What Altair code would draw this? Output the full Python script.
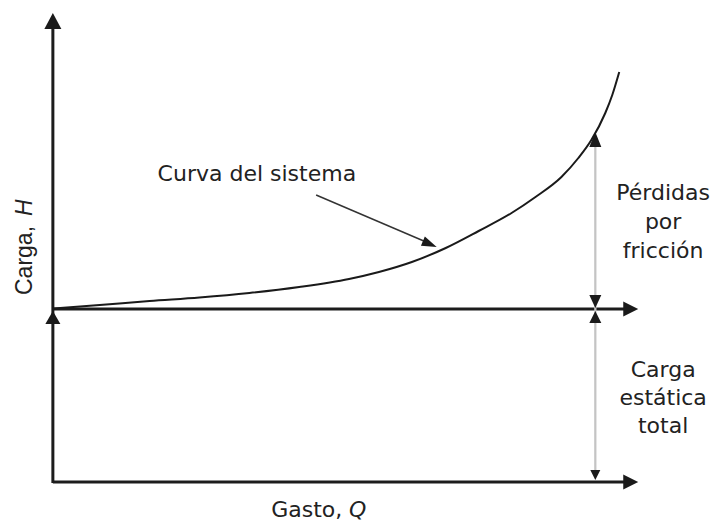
import altair as alt
import pandas as pd

# ---- system curve (diagram coordinates: Q to the right, H measured downward like screen) ----
curve_q = [53, 100, 150, 200, 250, 300, 350, 380, 413, 447, 480, 513, 537, 563, 580, 593, 607, 614, 621]
curve_h = [308.5, 305, 301, 297.5, 293, 287, 279, 272, 262, 248, 231, 213, 197, 177, 158, 140, 113, 95, 72]

# ---- axis / guide segments ----
seg_x1 = [53, 53, 53, 597, 317]
seg_y1 = [27, 309, 482, 140, 195]
seg_x2 = [53, 628, 628, 597, 432]
seg_y2 = [483, 309, 482, 477, 244]
seg_kind = ["axis", "axis", "axis", "guide", "pointer"]

# ---- arrowheads: centre, half-length, half-width, direction ----
head_x = [53, 632.5, 632.5, 53, 597, 597, 597, 597, 431]
head_y = [21, 309, 482, 317.5, 139.5, 301.5, 317, 475, 244]
head_len = [8, 7.5, 7.5, 6.5, 7.5, 6.5, 6, 5, 7.5]
head_wid = [8.5, 7.5, 7.5, 7.5, 6, 6, 6, 5, 5]
head_dir = ["up", "right", "right", "up", "up", "down", "up", "down", "right"]
head_angle = [0, 0, 0, 0, 0, 0, 0, 0, 23]

# ---- labels ----
lab_plain_text = ["Curva del sistema", "Gasto,"]
lab_plain_x = [158, 272]
lab_plain_y = [181, 517]

lab_ital_text = ["Q"]
lab_ital_x = [350]
lab_ital_y = [517]

lab_center_text = ["Pérdidas", "por", "fricción", "Carga", "estática", "total"]
lab_center_x = [665, 665, 665, 665, 665, 665]
lab_center_y = [200, 229, 258, 377, 405, 433]

lab_rot_text = ["Carga,"]
lab_rot_x = [32]
lab_rot_y = [295]
lab_rot_ital_text = ["H"]
lab_rot_ital_x = [32]
lab_rot_ital_y = [216]

W, H = 702, 513
FONT_H = "DejaVu Sans"
FONT_V = "Liberation Sans"
TXT = "#222222"

xs = alt.Scale(domain=[8, 8 + W], nice=False, zero=False)
ys = alt.Scale(domain=[8, 8 + H], nice=False, zero=False, reverse=True)


def X(f):
    return alt.X(f, type="quantitative", scale=xs, axis=None)


def Y(f):
    return alt.Y(f, type="quantitative", scale=ys, axis=None)


curve_df = pd.DataFrame({"q": curve_q, "h": curve_h})
curve = alt.Chart(curve_df).mark_line(
    color="#1a1a1a", strokeWidth=2, interpolate="monotone"
).encode(x=X("q"), y=Y("h"), order="q:Q")

seg_df = pd.DataFrame({"x1": seg_x1, "y1": seg_y1, "x2": seg_x2, "y2": seg_y2, "kind": seg_kind})
segs = alt.Chart(seg_df).mark_rule(strokeCap="butt").encode(
    x=X("x1"), y=Y("y1"), x2="x2:Q", y2="y2:Q",
    color=alt.Color("kind:N", scale=alt.Scale(domain=["axis", "guide", "pointer"],
                                              range=["#1c1c1c", "#c4c4c4", "#333333"]), legend=None),
    strokeWidth=alt.StrokeWidth("kind:N", scale=alt.Scale(domain=["axis", "guide", "pointer"],
                                                          range=[3, 1.5, 1.5]), legend=None),
)


def head_path(d, L, Wd):
    r = Wd / L
    if d == "up":
        return f"M0,-1L{-r:.3f},1L{r:.3f},1Z"
    if d == "down":
        return f"M0,1L{-r:.3f},-1L{r:.3f},-1Z"
    return f"M1,0L-1,{-r:.3f}L-1,{r:.3f}Z"


head_df = pd.DataFrame({
    "x": head_x, "y": head_y,
    "shape": [head_path(d, L, w) for d, L, w in zip(head_dir, head_len, head_wid)],
    "size": [(2 * L) ** 2 for L in head_len],
    "angle": head_angle,
})
heads = alt.Chart(head_df).mark_point(filled=True, color="#1a1a1a", opacity=1, strokeWidth=0).encode(
    x=X("x"), y=Y("y"),
    shape=alt.Shape("shape:N", scale=None),
    size=alt.Size("size:Q", scale=None),
    angle=alt.Angle("angle:Q", scale=None),
)

plain = alt.Chart(pd.DataFrame({"t": lab_plain_text, "x": lab_plain_x, "y": lab_plain_y})).mark_text(
    align="left", baseline="alphabetic", font=FONT_H, fontSize=22, color=TXT
).encode(x=X("x"), y=Y("y"), text="t:N")

ital = alt.Chart(pd.DataFrame({"t": lab_ital_text, "x": lab_ital_x, "y": lab_ital_y})).mark_text(
    align="left", baseline="alphabetic", font=FONT_H, fontSize=22, fontStyle="italic", color=TXT
).encode(x=X("x"), y=Y("y"), text="t:N")

center = alt.Chart(pd.DataFrame({"t": lab_center_text, "x": lab_center_x, "y": lab_center_y})).mark_text(
    align="center", baseline="alphabetic", font=FONT_H, fontSize=22, color=TXT
).encode(x=X("x"), y=Y("y"), text="t:N")

rot = alt.Chart(pd.DataFrame({"t": lab_rot_text, "x": lab_rot_x, "y": lab_rot_y})).mark_text(
    align="left", baseline="alphabetic", font=FONT_V, fontSize=23, color=TXT, angle=270
).encode(x=X("x"), y=Y("y"), text="t:N")

rot_ital = alt.Chart(pd.DataFrame({"t": lab_rot_ital_text, "x": lab_rot_ital_x, "y": lab_rot_ital_y})).mark_text(
    align="left", baseline="alphabetic", font=FONT_V, fontSize=23, fontStyle="italic", color=TXT, angle=270
).encode(x=X("x"), y=Y("y"), text="t:N")

chart = alt.layer(segs, curve, heads, plain, ital, center, rot, rot_ital).properties(
    width=W, height=H,
    autosize=alt.AutoSizeParams(type="fit", contains="padding"),
    padding=0,
    background="white",
).configure_view(stroke=None)

chart.save("out.html", embed_options={"renderer": "svg", "actions": False})
